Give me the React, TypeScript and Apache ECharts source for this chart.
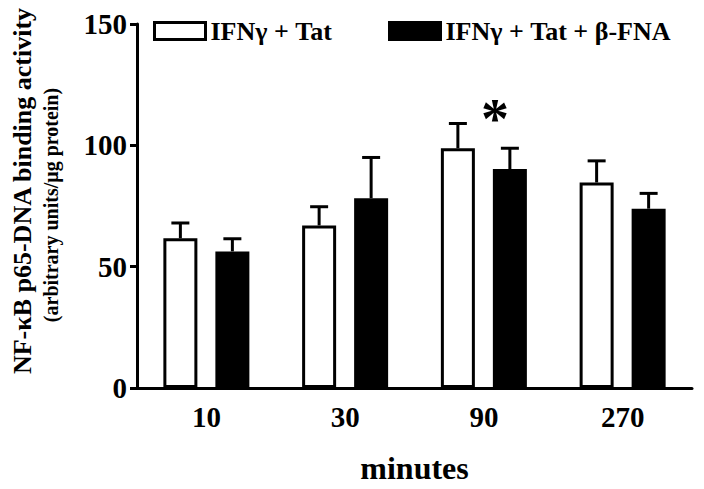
import React, { useEffect, useRef } from "react";
import * as echarts from "echarts";

const categories = ["10", "30", "90", "270"];
const seriesNames = ["IFNγ + Tat", "IFNγ + Tat + β-FNA"];
const ifnTatMean = [61.7, 67.0, 98.8, 84.7];
const ifnTatSem = [6.3, 7.7, 10.2, 8.9];
const fnaMean = [56.3, 78.2, 90.2, 73.9];
const fnaSem = [5.2, 16.8, 8.6, 6.3];
const significance = ["", "", "*", ""];
const yTicks = [0, 50, 100, 150];

const FONT = "'Liberation Serif', 'Times New Roman', serif";
const BAR_W = 34;
const BAR_GAP_PX = 18;
const OFFSET = (BAR_W + BAR_GAP_PX) / 2;

function errorSeries(mean: number[], sem: number[], dx: number) {
  return {
    type: "custom",
    z: 5,
    silent: true,
    encode: { x: 0, y: 1 },
    data: categories.map((_, i) => [i, mean[i], sem[i]]),
    renderItem: (params: any, api: any) => {
      const ci = api.value(0);
      const m = api.value(1);
      const s = api.value(2);
      const base = api.coord([ci, m]);
      const top = api.coord([ci, m + s]);
      const x = base[0] + dx;
      return {
        type: "group",
        children: [
          { type: "line", shape: { x1: x, y1: base[1], x2: x, y2: top[1] }, style: { stroke: "#000", lineWidth: 3 } },
          { type: "line", shape: { x1: x - 9, y1: top[1], x2: x + 9, y2: top[1] }, style: { stroke: "#000", lineWidth: 3 } },
        ],
      };
    },
  };
}

export default function App() {
  const ref = useRef<HTMLDivElement>(null);
  useEffect(() => {
    if (!ref.current) return;
    const chart = echarts.init(ref.current, null, { renderer: "svg" });
    const textStyle = { fontFamily: FONT, fontWeight: "bold", color: "#000" };
    chart.setOption({
      animation: false,
      backgroundColor: "#fff",
      grid: { left: 137, right: 12, top: 24, bottom: 96 },
      legend: [
        {
          left: 153, top: 18, padding: 0, itemWidth: 51, itemHeight: 17, selectedMode: false,
          data: [{ name: seriesNames[0], icon: "rect", itemStyle: { color: "#fff", borderColor: "#000", borderWidth: 3 } }],
          textStyle: { ...textStyle, fontSize: 26 },
        },
        {
          left: 388, top: 18, padding: 0, itemWidth: 51, itemHeight: 17, selectedMode: false,
          data: [{ name: seriesNames[1], icon: "rect", itemStyle: { color: "#000", borderColor: "#000", borderWidth: 3 } }],
          textStyle: { ...textStyle, fontSize: 26 },
        },
      ],
      xAxis: {
        type: "category",
        data: categories,
        name: "minutes",
        nameLocation: "middle",
        nameGap: 64,
        nameTextStyle: { ...textStyle, fontSize: 32 },
        axisLine: { lineStyle: { color: "#000", width: 3 } },
        axisTick: { alignWithLabel: true, length: 9, lineStyle: { color: "#000", width: 3 } },
        axisLabel: { ...textStyle, fontSize: 29, margin: 14 },
      },
      yAxis: {
        type: "value",
        min: yTicks[0],
        max: yTicks[yTicks.length - 1],
        interval: 50,
        axisLine: { show: true, lineStyle: { color: "#000", width: 3 } },
        axisTick: { show: true, length: 7, lineStyle: { color: "#000", width: 3 } },
        axisLabel: { ...textStyle, fontSize: 29, margin: 10 },
        splitLine: { show: false },
      },
      graphic: [
        {
          type: "text", x: 22, y: 191, rotation: Math.PI / 2,
          style: { text: "NF-κB p65-DNA binding activity", font: `bold 26px ${FONT}`, fill: "#000", textAlign: "center", textVerticalAlign: "middle" },
        },
        {
          type: "text", x: 51, y: 205, rotation: Math.PI / 2,
          style: { text: "(arbitrary units/μg protein)", font: `bold 20px ${FONT}`, fill: "#000", textAlign: "center", textVerticalAlign: "middle" },
        },
      ],
      series: [
        {
          name: seriesNames[0], type: "bar", data: ifnTatMean, barWidth: BAR_W, barGap: `${(BAR_GAP_PX / BAR_W) * 100}%`,
          itemStyle: { color: "#fff", borderColor: "#000", borderWidth: 3 },
        },
        {
          name: seriesNames[1], type: "bar", data: fnaMean, barWidth: BAR_W,
          itemStyle: { color: "#000", borderColor: "#000", borderWidth: 3 },
        },
        errorSeries(ifnTatMean, ifnTatSem, -OFFSET),
        errorSeries(fnaMean, fnaSem, OFFSET),
        {
          type: "custom",
          silent: true,
          z: 6,
          encode: { x: 0, y: 1 },
          data: categories
            .map((_, i) => [i, Math.max(ifnTatMean[i] + ifnTatSem[i], fnaMean[i] + fnaSem[i]), significance[i]])
            .filter((d) => d[2] !== ""),
          renderItem: (params: any, api: any) => {
            const p = api.coord([api.value(0), api.value(1)]);
            return {
              type: "text",
              x: p[0] + 11,
              y: p[1] - 4,
              style: { text: "*", font: `bold 56px ${FONT}`, fill: "#000", textAlign: "center", textVerticalAlign: "middle" },
            };
          },
        },
      ],
    });
    return () => chart.dispose();
  }, []);
  return <div ref={ref} style={{ width: 704, height: 489, position: "absolute", left: 0, top: 0 }} />;
}
